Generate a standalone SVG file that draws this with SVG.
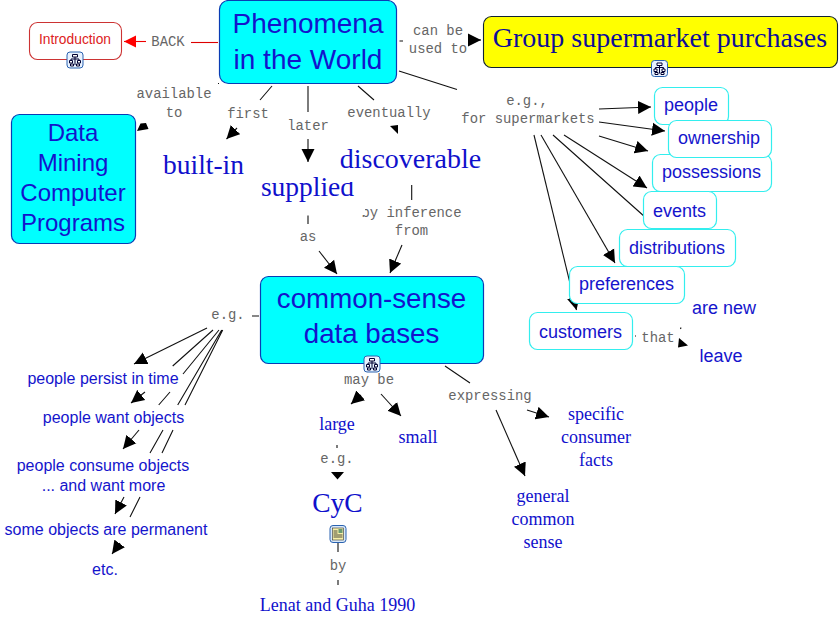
<svg xmlns="http://www.w3.org/2000/svg" width="839" height="625" viewBox="0 0 839 625">
<style>
text{text-anchor:middle}
.lb{font:13.9px "Liberation Mono",monospace;fill:#666}
.s{font-family:"Liberation Sans",Arial,sans-serif;fill:#1414cc}
.t{font-family:"Liberation Serif","Times New Roman",serif;fill:#1010cc}
.c{fill:#0ff;stroke:#0a3cb4;stroke-width:1.2}
.w{fill:#fff;stroke:#3ee;stroke-width:1.2}
.b{fill:#fff;stroke:none}
.l{stroke:#111;stroke-width:1.1;fill:none}
.a{stroke:#111;stroke-width:1.1;fill:none;marker-end:url(#ah)}
</style>
<defs>
<marker id="ah" markerUnits="userSpaceOnUse" markerWidth="14" markerHeight="14" refX="13" refY="7" orient="auto"><path d="M0 0.5L13 7L0 13.5Z" fill="#000"/></marker>
<marker id="ar" markerUnits="userSpaceOnUse" markerWidth="14" markerHeight="14" refX="12" refY="7" orient="auto"><path d="M0 1L12 7L0 13Z" fill="#f00"/></marker>
<g id="tree"><rect x="0.5" y="0.5" width="16" height="16" rx="3" fill="#e8f2ff" stroke="#2a62b0"/><path d="M6 3h5v2.500h-5zM3 9h3v2.500h-3zM11 9h3v2.500h-3zM4 12.500h3v2h-3zM10 12.500h3v2h-3z" fill="#fff" stroke="#003" stroke-width="1"/><path d="M8.500 5.500v8M4.500 7.500h8M4.500 7.500v1.500M12.500 7.500v1.500" stroke="#003" fill="none"/></g>
<g id="doc"><rect x="0.5" y="0.5" width="16" height="17" rx="3" fill="#d8e8f8" stroke="#2a62b0"/><rect x="3" y="3" width="11" height="12" fill="#f7f0a8" stroke="#333" stroke-width="0.6"/><path d="M4 6h4M4 8h4M4 10h9M4 12h9" stroke="#222" stroke-width="0.8"/><rect x="9" y="4" width="4" height="4" fill="#6a9a70"/></g>
</defs>
<g id="connectors">
<path d="M191 42.500H218" stroke="#d00" stroke-width="1.100" fill="none"/>
<path d="M146 41.500H124" stroke="#e00" stroke-width="1.100" marker-end="url(#ar)" fill="none"/>
<path class="l" d="M399.500 41H403M399 71L457 89.500M272 86L260 100M308 86V112M358 86L374 100M411.700 185V200M308 215.500V224M252 316H259M213 330L172.700 366M219 330L183 374M170 392L158.700 405M221.700 330L177.700 405M163 430L150 453M222.700 330L185 405M173 430L162 453M140 497L130 517M445 366L470 383M337 445V448M338 543V552M338 580V585M635 336H636M681 327.500L680.500 329M553 135L645 217"/>
<path class="a" d="M469 40H481"/>
<path class="a" d="M237 128L226.500 139"/>
<path class="a" d="M308 139V162"/>
<path class="a" d="M599 109L651 107"/>
<path class="a" d="M599 122L665 131"/>
<path class="a" d="M599 136L648 151"/>
<path class="a" d="M564 135L647 188"/>
<path class="a" d="M541 135L615 263"/>
<path class="a" d="M534 135L576.500 310"/>
<path class="a" d="M402 245L390 273"/>
<path class="a" d="M319 251L337 274"/>
<path class="a" d="M207 328L134 364"/>
<path class="a" d="M145 392L131 403"/>
<path class="a" d="M139 430L123 449"/>
<path class="a" d="M124 497L115 514"/>
<path class="a" d="M120 543L112 554"/>
<path class="a" d="M361 395L351 404"/>
<path class="a" d="M381 394L401 416"/>
<path class="a" d="M527 410L549 417"/>
<path class="a" d="M496 410L525 476"/>
<path d="M331 472H344L337.500 479.500ZM137 131L140.500 123.500L146 123L148.500 129ZM390 126L398 125V134ZM679 338L688 345.500L678 347.500Z" fill="#000"/>
<rect x="218" y="83" width="1" height="1" fill="#111"/>
</g>
<g id="labels">
<text class="lb" x="168" y="46">BACK</text>
<text class="lb" x="438" y="35">can be</text><text class="lb" x="438" y="53">used to</text>
<text class="lb" x="174" y="98">available</text><text class="lb" x="174" y="117">to</text>
<text class="lb" x="248" y="118">first</text>
<text class="lb" x="308" y="130">later</text>
<text class="lb" x="389" y="117">eventually</text>
<text class="lb" x="527" y="105">e.g.,</text><text class="lb" x="528" y="123">for supermarkets</text>
<text class="lb" x="411.500" y="217">by inference</text><text class="lb" x="411.500" y="235">from</text>
<text class="lb" x="308" y="241">as</text>
<text class="lb" x="228" y="319">e.g.</text>
<text class="lb" x="369" y="384">may be</text>
<text class="lb" x="490" y="400">expressing</text>
<text class="lb" x="337" y="463">e.g.</text>
<text class="lb" x="338" y="570">by</text>
<text class="lb" x="658" y="342">that</text>
</g>
<g id="introduction"><rect x="29.500" y="22.500" width="92" height="37" rx="8" fill="#fff" stroke="#c33" stroke-width="1.100"/><text x="75" y="44" style="font:13.800px 'Liberation Sans',sans-serif;fill:#d22">Introduction</text><use href="#tree" x="66.500" y="51.500"/></g>
<g id="phenomena"><rect class="c" x="219.500" y="0.500" width="177" height="83" rx="9"/><text class="s" font-size="28" x="308" y="33">Phenomena</text><text class="s" font-size="28" x="308" y="69">in the World</text></g>
<g id="group-purchases"><rect x="483.500" y="16.500" width="354" height="51" rx="8" fill="#ff0" stroke="#123" stroke-width="1.100"/><text class="t" font-size="28" style="fill:#0d0d99" x="660" y="47">Group supermarket purchases</text><use href="#tree" x="651" y="60"/></g>
<g id="data-mining"><rect class="c" x="11.500" y="114.500" width="124" height="129" rx="8"/><text class="s" font-size="24" x="73" y="141">Data</text><text class="s" font-size="24" x="73" y="171">Mining</text><text class="s" font-size="24" x="73" y="201">Computer</text><text class="s" font-size="24" x="73" y="231">Programs</text></g>
<g id="built-in"><text class="t" font-size="27.500" x="203.500" y="174">built-in</text></g>
<g id="supplied"><rect class="b" x="257" y="170" width="108" height="45"/><text class="t" font-size="27.500" x="307.500" y="196">supplied</text></g>
<g id="discoverable"><rect class="b" x="336" y="143" width="150" height="39"/><text class="t" font-size="28" x="410.500" y="168">discoverable</text></g>
<g id="common-sense"><rect class="c" x="260.500" y="276.500" width="223" height="87" rx="8"/><text class="s" font-size="27.700" x="371.500" y="308">common-sense</text><text class="s" font-size="27.700" x="371.500" y="343">data bases</text><use href="#tree" x="363.500" y="355.500"/></g>
<g id="people"><rect class="w" x="654.500" y="87.500" width="74" height="37" rx="8"/><text class="s" font-size="18" x="691" y="111">people</text></g>
<g id="possessions"><rect class="w" x="652.500" y="154.500" width="119" height="37" rx="8"/><text class="s" font-size="18" x="711.500" y="178">possessions</text></g>
<g id="ownership"><rect class="w" x="668.500" y="120.500" width="103" height="37" rx="8"/><text class="s" font-size="18" x="719" y="144">ownership</text></g>
<g id="events"><rect class="w" x="643.500" y="191.500" width="73" height="37" rx="8"/><text class="s" font-size="18" x="679.500" y="217">events</text></g>
<g id="distributions"><rect class="w" x="619.500" y="229.500" width="116" height="37" rx="8"/><text class="s" font-size="18" x="677" y="254">distributions</text></g>
<g id="preferences"><rect class="w" x="569.500" y="266.500" width="115" height="37" rx="8"/><text class="s" font-size="18" x="626.500" y="290">preferences</text></g>
<g id="customers"><rect class="w" x="529.500" y="312.500" width="103" height="37" rx="8"/><text class="s" font-size="18" x="580.500" y="338">customers</text></g>
<g id="are-new"><text class="s" font-size="18" x="724" y="314">are new</text></g>
<g id="leave"><text class="s" font-size="18" x="721" y="362">leave</text></g>
<g id="persist"><text class="s" font-size="16" x="103" y="384">people persist in time</text></g>
<g id="want"><text class="s" font-size="16" x="113.500" y="423">people want objects</text></g>
<g id="consume"><text class="s" font-size="16" x="103" y="471">people consume objects</text><text class="s" font-size="16" x="103.500" y="491">... and want more</text></g>
<g id="permanent"><text class="s" font-size="16" x="106" y="535">some objects are permanent</text></g>
<g id="etc"><text class="s" font-size="16" x="105" y="575">etc.</text></g>
<g id="large"><text class="t" font-size="18" x="337" y="430">large</text></g>
<g id="small"><text class="t" font-size="18" x="418" y="443">small</text></g>
<g id="specific"><text class="t" font-size="18" x="596" y="420">specific</text><text class="t" font-size="18" x="596" y="443">consumer</text><text class="t" font-size="18" x="596" y="466">facts</text></g>
<g id="general"><text class="t" font-size="18" x="543" y="502">general</text><text class="t" font-size="18" x="543" y="525">common</text><text class="t" font-size="18" x="543" y="548">sense</text></g>
<g id="cyc"><text class="t" font-size="27.500" x="337.500" y="512">CyC</text><use href="#doc" x="329.500" y="525"/></g>
<g id="lenat"><text class="t" font-size="18" x="337.500" y="611">Lenat and Guha 1990</text></g>
</svg>
